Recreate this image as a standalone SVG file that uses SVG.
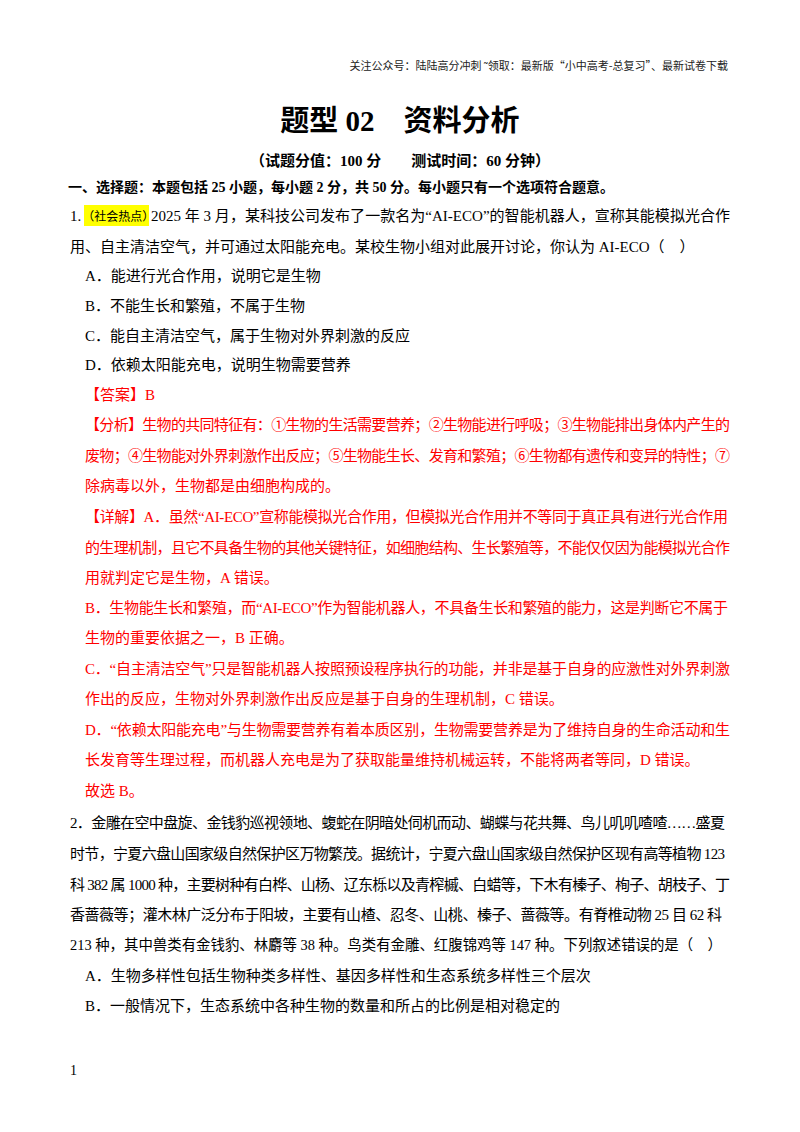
<svg xmlns="http://www.w3.org/2000/svg" width="800" height="1132" viewBox="0 0 800 1132">
<style>
text{font-family:"Liberation Serif","Noto Sans CJK SC",serif;font-size:15px;fill:#000}
.r{fill:#ff0000}
.b{font-weight:bold}
.h{font-family:"Noto Sans CJK SC",sans-serif;font-size:11px;fill:#222}
.s{font-size:12px}
</style>
<rect width="800" height="1132" fill="#fff"/>
<text class="h" x="728" y="70" text-anchor="end">关注公众号：陆陆高分冲刺 ˜领取：最新版“小中高考-总复习”、最新试卷下载</text>
<text class="b" x="400" y="131" text-anchor="middle" style="font-size:29px">题型 02　资料分析</text>
<text class="b" x="400" y="166" text-anchor="middle" style="font-size:15px">（试题分值：100 分　　测试时间：60 分钟）</text>
<text class="b" x="68" y="192" style="font-size:14px">一、选择题：本题包括 25 小题，每小题 2 分，共 50 分。每小题只有一个选项符合题意。</text>
<rect x="84" y="205" width="65" height="21" fill="#ffff00"/>
<text x="70" y="221">1.<tspan class="s" dx="1">（社会热点）</tspan></text>
<text x="151" y="221" textLength="579" lengthAdjust="spacing">2025 年 3 月，某科技公司发布了一款名为“AI-ECO”的智能机器人，宣称其能模拟光合作</text>
<text x="70" y="252">用、自主清洁空气，并可通过太阳能充电。某校生物小组对此展开讨论，你认为 AI-ECO（　）</text>
<text x="85" y="281">A．能进行光合作用，说明它是生物</text>
<text x="85" y="311">B．不能生长和繁殖，不属于生物</text>
<text x="85" y="341">C．能自主清洁空气，属于生物对外界刺激的反应</text>
<text x="85" y="370">D．依赖太阳能充电，说明生物需要营养</text>
<text class="r" x="85" y="400">【答案】B</text>
<text class="r" x="85" y="430" textLength="645" lengthAdjust="spacing">【分析】生物的共同特征有：①生物的生活需要营养；②生物能进行呼吸；③生物能排出身体内产生的</text>
<text class="r" x="85" y="461" textLength="645" lengthAdjust="spacing">废物；④生物能对外界刺激作出反应；⑤生物能生长、发育和繁殖；⑥生物都有遗传和变异的特性；⑦</text>
<text class="r" x="85" y="491">除病毒以外，生物都是由细胞构成的。</text>
<text class="r" x="85" y="522" textLength="643" lengthAdjust="spacing">【详解】A．虽然“AI-ECO”宣称能模拟光合作用，但模拟光合作用并不等同于真正具有进行光合作用</text>
<text class="r" x="85" y="553" textLength="645" lengthAdjust="spacing">的生理机制，且它不具备生物的其他关键特征，如细胞结构、生长繁殖等，不能仅仅因为能模拟光合作</text>
<text class="r" x="85" y="583">用就判定它是生物，A 错误。</text>
<text class="r" x="85" y="613" textLength="643" lengthAdjust="spacing">B．生物能生长和繁殖，而“AI-ECO”作为智能机器人，不具备生长和繁殖的能力，这是判断它不属于</text>
<text class="r" x="85" y="643">生物的重要依据之一，B 正确。</text>
<text class="r" x="85" y="674" textLength="645" lengthAdjust="spacing">C．“自主清洁空气”只是智能机器人按照预设程序执行的功能，并非是基于自身的应激性对外界刺激</text>
<text class="r" x="85" y="704">作出的反应，生物对外界刺激作出反应是基于自身的生理机制，C 错误。</text>
<text class="r" x="85" y="735" textLength="645" lengthAdjust="spacing">D．“依赖太阳能充电”与生物需要营养有着本质区别，生物需要营养是为了维持自身的生命活动和生</text>
<text class="r" x="85" y="765">长发育等生理过程，而机器人充电是为了获取能量维持机械运转，不能将两者等同，D 错误。</text>
<text class="r" x="85" y="796">故选 B。</text>
<text x="70" y="828" textLength="655" lengthAdjust="spacing">2．金雕在空中盘旋、金钱豹巡视领地、蝮蛇在阴暗处伺机而动、蝴蝶与花共舞、鸟儿叽叽喳喳……盛夏</text>
<text x="70" y="859" textLength="655" lengthAdjust="spacing">时节，宁夏六盘山国家级自然保护区万物繁茂。据统计，宁夏六盘山国家级自然保护区现有高等植物 123</text>
<text x="70" y="890" textLength="660" lengthAdjust="spacing">科 382 属 1000 种，主要树种有白桦、山杨、辽东栎以及青榨槭、白蜡等，下木有榛子、栒子、胡枝子、丁</text>
<text x="70" y="920" textLength="652" lengthAdjust="spacing">香蔷薇等；灌木林广泛分布于阳坡，主要有山楂、忍冬、山桃、榛子、蔷薇等。有脊椎动物 25 目 62 科</text>
<text x="70" y="950" textLength="652" lengthAdjust="spacingAndGlyphs">213 种，其中兽类有金钱豹、林麝等 38 种。鸟类有金雕、红腹锦鸡等 147 种。下列叙述错误的是（　）</text>
<text x="85" y="981">A．生物多样性包括生物种类多样性、基因多样性和生态系统多样性三个层次</text>
<text x="85" y="1011">B．一般情况下，生态系统中各种生物的数量和所占的比例是相对稳定的</text>
<text x="70" y="1075" style="font-size:14px">1</text>
</svg>
